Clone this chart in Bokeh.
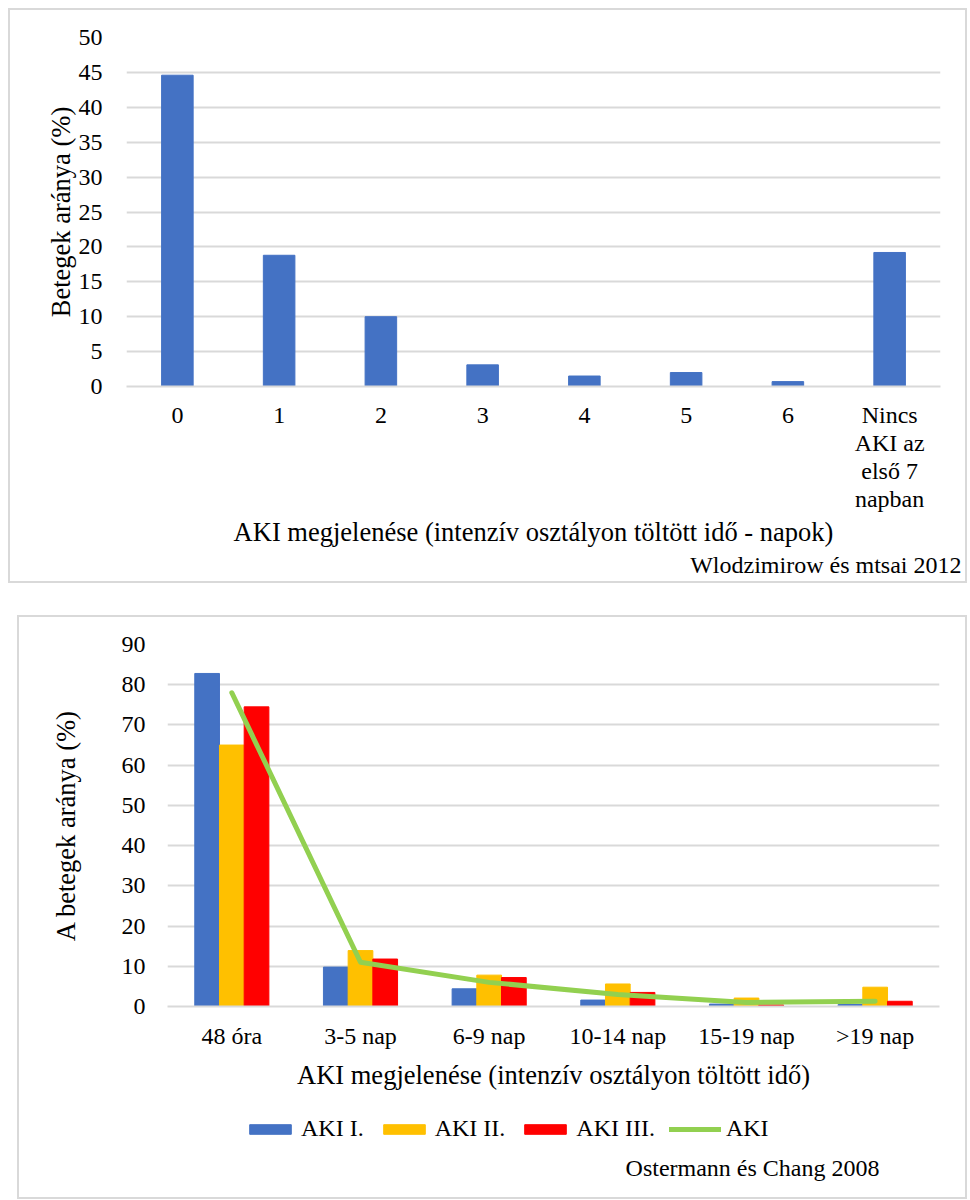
from bokeh.plotting import figure
from bokeh.models import (Range1d, FixedTicker, Title, Legend, LegendItem,
                          LinearAxis, Label)
from bokeh.transform import dodge
from bokeh.embed import file_html
from bokeh.resources import INLINE

FONT = "Liberation Serif"

# ---- data: top chart (Wlodzimirow et al. 2012)
days = ["0", "1", "2", "3", "4", "5", "6", "Nincs"]
last_label_lines = ["AKI az", "első 7", "napban"]
pct_days = [44.6, 18.8, 10.0, 3.1, 1.5, 2.0, 0.7, 19.2]
top_yticks = [0, 5, 10, 15, 20, 25, 30, 35, 40, 45, 50]

# ---- data: bottom chart (Ostermann & Chang 2008)
periods = ["48 óra", "3-5 nap", "6-9 nap", "10-14 nap", "15-19 nap", ">19 nap"]
aki1 = [82.8, 9.8, 4.4, 1.6, 0.6, 0.5]
aki2 = [65.0, 13.9, 7.8, 5.6, 2.1, 4.8]
aki3 = [74.5, 11.8, 7.2, 3.5, 0.4, 1.3]
aki_all = [78.0, 11.0, 6.0, 3.0, 1.0, 1.3]
bottom_yticks = [0, 10, 20, 30, 40, 50, 60, 70, 80, 90]
series_names = ["AKI I.", "AKI II.", "AKI III.", "AKI"]
series_colors = ["#4472c4", "#ffc000", "#ff0000", "#92d050"]

GRID = "#d9d9d9"
C = "#d9d9d9"


def style_y(p, yticks, ylabel, tick_standoff, label_standoff):
    p.yaxis.ticker = FixedTicker(ticks=yticks)
    ax = p.yaxis[0]
    ax.axis_line_color = None
    ax.major_tick_line_color = None
    ax.minor_tick_line_color = None
    ax.major_label_text_font = FONT
    ax.major_label_text_font_size = "24px"
    ax.major_label_text_color = "black"
    ax.major_label_standoff = tick_standoff
    ax.axis_label = ylabel
    ax.axis_label_text_font = FONT
    ax.axis_label_text_font_size = "26.5px"
    ax.axis_label_text_font_style = "normal"
    ax.axis_label_text_color = "black"
    ax.axis_label_standoff = label_standoff
    p.xgrid.grid_line_color = None
    p.ygrid.grid_line_color = GRID
    p.ygrid.grid_line_width = 2
    p.outline_line_color = None


def style_x(ax, standoff, line=True):
    ax.axis_line_color = GRID if line else None
    ax.axis_line_width = 2
    ax.major_tick_line_color = None
    ax.minor_tick_line_color = None
    ax.major_tick_out = 0
    ax.major_tick_in = 0
    ax.major_label_text_font = FONT
    ax.major_label_text_font_size = "24px"
    ax.major_label_text_color = "black"
    ax.major_label_standoff = standoff


def style_xlabel(ax, text, standoff):
    ax.axis_label = text
    ax.axis_label_text_font = FONT
    ax.axis_label_text_font_size = "26.5px"
    ax.axis_label_text_font_style = "normal"
    ax.axis_label_text_color = "black"
    ax.axis_label_standoff = standoff


# ---------------- top figure (numeric x so the last label can wrap)
x_pos = [i + 0.5 for i in range(len(days))]
p1 = figure(x_range=Range1d(0, len(days)), y_range=Range1d(0, 50),
            width=955, height=571, output_backend="svg", toolbar_location=None,
            min_border_left=116, min_border_right=25, min_border_top=27,
            min_border_bottom=195,
            styles={"outline": f"2px solid {C}"})
p1.vbar(x=x_pos, top=pct_days, width=0.31, color="#4472c4")
style_y(p1, top_yticks, "Betegek aránya (%)", 18, 0)
main_x = p1.xaxis[0]
main_x.ticker = FixedTicker(ticks=x_pos)
main_x.major_label_overrides = {x: d for x, d in zip(x_pos, days)}
style_x(main_x, 15)
nincs_pos = x_pos[days.index("Nincs")]
extra = None
for line_text in last_label_lines:
    extra = LinearAxis(ticker=FixedTicker(ticks=[nincs_pos]),
                       major_label_overrides={nincs_pos: line_text})
    style_x(extra, -1, line=False)
    p1.add_layout(extra, "below")
style_xlabel(extra, "AKI megjelenése (intenzív osztályon töltött idő - napok)", 2)
t1 = Title(text="Wlodzimirow és mtsai 2012", align="right", offset=-21,
           standoff=0, text_font=FONT, text_font_size="24px",
           text_font_style="normal", text_color="black")
p1.add_layout(t1, "below")
p1.margin = (10, 0, 0, 10)

# ---------------- bottom figure (chart part)
p2 = figure(x_range=periods, y_range=Range1d(0, 90), width=946, height=478,
            output_backend="svg", toolbar_location=None,
            min_border_left=148, min_border_right=26, min_border_top=27,
            min_border_bottom=89,
            styles={"box-shadow": f"-2px 0 0 0 {C}, 2px 0 0 0 {C}, 0 -2px 0 0 {C}, "
                                  f"-2px -2px 0 0 {C}, 2px -2px 0 0 {C}"})
data = dict(x=periods, a1=aki1, a2=aki2, a3=aki3, a=aki_all)
p2.vbar(x=dodge("x", -0.192, range=p2.x_range), top="a1", width=0.192,
        color=series_colors[0], source=data)
p2.vbar(x=dodge("x", 0.0, range=p2.x_range), top="a2", width=0.192,
        color=series_colors[1], source=data)
p2.vbar(x=dodge("x", 0.192, range=p2.x_range), top="a3", width=0.192,
        color=series_colors[2], source=data)
p2.line(x="x", y="a", line_color=series_colors[3], line_width=5,
        line_cap="round", line_join="round", source=data)
style_y(p2, bottom_yticks, "A betegek aránya (%)", 16, 38)
style_x(p2.xaxis[0], 16)
style_xlabel(p2.xaxis[0], "AKI megjelenése (intenzív osztályon töltött idő)", 8)
p2.margin = (36, 0, 0, 19)

# ---------------- bottom figure (legend + source part)
p3 = figure(width=946, height=102, x_range=Range1d(0, 946), y_range=Range1d(0, 102),
            x_axis_type=None, y_axis_type=None, output_backend="svg",
            toolbar_location=None, min_border=0,
            styles={"box-shadow": f"-2px 0 0 0 {C}, 2px 0 0 0 {C}, 0 2px 0 0 {C}, "
                                  f"-2px 2px 0 0 {C}, 2px 2px 0 0 {C}"})
p3.grid.visible = False
p3.outline_line_color = None
# legend-only renderers (kept outside the visible range)
lr = [p3.vbar(x=[-50], top=[-50], width=1, color=series_colors[i]) for i in range(3)]
lr.append(p3.line(x=[-60, -50], y=[-50, -50], line_color=series_colors[3],
                  line_width=5, line_cap="round"))
legend = Legend(items=[LegendItem(label=series_names[i], renderers=[lr[i]]) for i in range(4)],
                orientation="horizontal", location=(225, 55),
                glyph_width=52, glyph_height=12, label_standoff=5, spacing=14,
                label_text_font=FONT, label_text_font_size="24px",
                label_text_color="black", border_line_color=None,
                background_fill_alpha=0, padding=0, margin=0)
p3.add_layout(legend)
p3.add_layout(Label(x=860, y=30, text="Ostermann és Chang 2008", text_align="right",
                    text_baseline="middle", text_font=FONT, text_font_size="24px",
                    text_color="black"))
p3.margin = (0, 0, 0, 19)

open("out.html", "w").write(file_html([p1, p2, p3], INLINE))
